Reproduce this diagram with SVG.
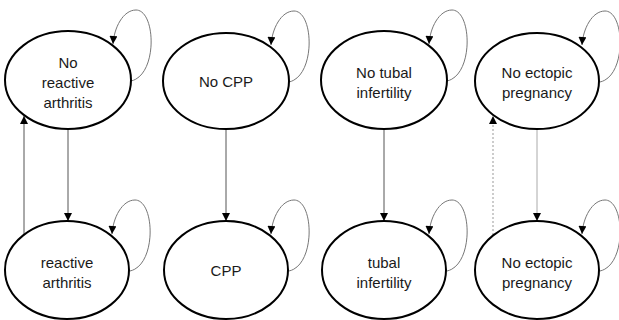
<svg xmlns="http://www.w3.org/2000/svg" width="619" height="320" viewBox="0 0 619 320">
<defs>
<marker id="ah" viewBox="0 0 10 10" refX="10" refY="5" markerWidth="9" markerHeight="8" markerUnits="userSpaceOnUse" orient="auto"><path d="M0,0 L10,5 L0,10 Z" fill="#000"/></marker>
<path id="loop" d="M63,1 C90,-5 88,-70 68,-70 C55,-70 46,-52 45,-36"/>
</defs>
<style>
.node ellipse{fill:#fff;stroke:#000;stroke-width:2}
.node text{font-family:"Liberation Sans",Arial,sans-serif;font-size:15px;fill:#1a1a1a;text-anchor:middle}
.conn{fill:none;stroke:#555;stroke-width:1}
.loop{fill:none;stroke:#777;stroke-width:1}
</style>
<rect width="619" height="320" fill="#fff"/>
<g id="connectors">
<line class="conn" x1="68" y1="130" x2="68" y2="221" marker-end="url(#ah)"/>
<line class="conn" x1="24" y1="235" x2="24" y2="116" marker-end="url(#ah)"/>
<line class="conn" x1="226" y1="129" x2="226" y2="221" marker-end="url(#ah)"/>
<line class="conn" x1="384" y1="129" x2="384" y2="221" marker-end="url(#ah)"/>
<line class="conn" x1="537" y1="129" x2="537" y2="221" stroke="#aaa" style="stroke:#aaa" marker-end="url(#ah)"/>
<line class="conn" x1="493" y1="235" x2="493" y2="116" style="stroke:#999;stroke-dasharray:2 2" marker-end="url(#ah)"/>
<use href="#loop" class="loop" transform="translate(68,80)" marker-end="url(#ah)"/>
<use href="#loop" class="loop" transform="translate(226,81)" marker-end="url(#ah)"/>
<use href="#loop" class="loop" transform="translate(384,80)" marker-end="url(#ah)"/>
<use href="#loop" class="loop" transform="translate(537,81)" marker-end="url(#ah)"/>
<use href="#loop" class="loop" transform="translate(67,270)" marker-end="url(#ah)"/>
<use href="#loop" class="loop" transform="translate(226,270)" marker-end="url(#ah)"/>
<use href="#loop" class="loop" transform="translate(384,270)" marker-end="url(#ah)"/>
<use href="#loop" class="loop" transform="translate(537,270)" marker-end="url(#ah)"/>
</g>
<g id="n_no_ra" class="node"><ellipse cx="68" cy="80" rx="63" ry="49"/><text x="68" y="68">No</text><text x="68" y="88">reactive</text><text x="68" y="108">arthritis</text></g>
<g id="n_ra" class="node"><ellipse cx="67" cy="270" rx="62" ry="49"/><text x="67" y="268">reactive</text><text x="67" y="288">arthritis</text></g>
<g id="n_no_cpp" class="node"><ellipse cx="226" cy="81" rx="63" ry="48"/><text x="226" y="87">No CPP</text></g>
<g id="n_cpp" class="node"><ellipse cx="226" cy="270" rx="62" ry="49"/><text x="226" y="276">CPP</text></g>
<g id="n_no_ti" class="node"><ellipse cx="384" cy="80" rx="63" ry="49"/><text x="384" y="78">No tubal</text><text x="384" y="98">infertility</text></g>
<g id="n_ti" class="node"><ellipse cx="384" cy="270" rx="62" ry="49"/><text x="384" y="268">tubal</text><text x="384" y="288">infertility</text></g>
<g id="n_no_ep" class="node"><ellipse cx="537" cy="81" rx="62" ry="48"/><text x="537" y="78">No ectopic</text><text x="537" y="98">pregnancy</text></g>
<g id="n_ep" class="node"><ellipse cx="537" cy="270" rx="62" ry="49"/><text x="537" y="268">No ectopic</text><text x="537" y="288">pregnancy</text></g>
</svg>
